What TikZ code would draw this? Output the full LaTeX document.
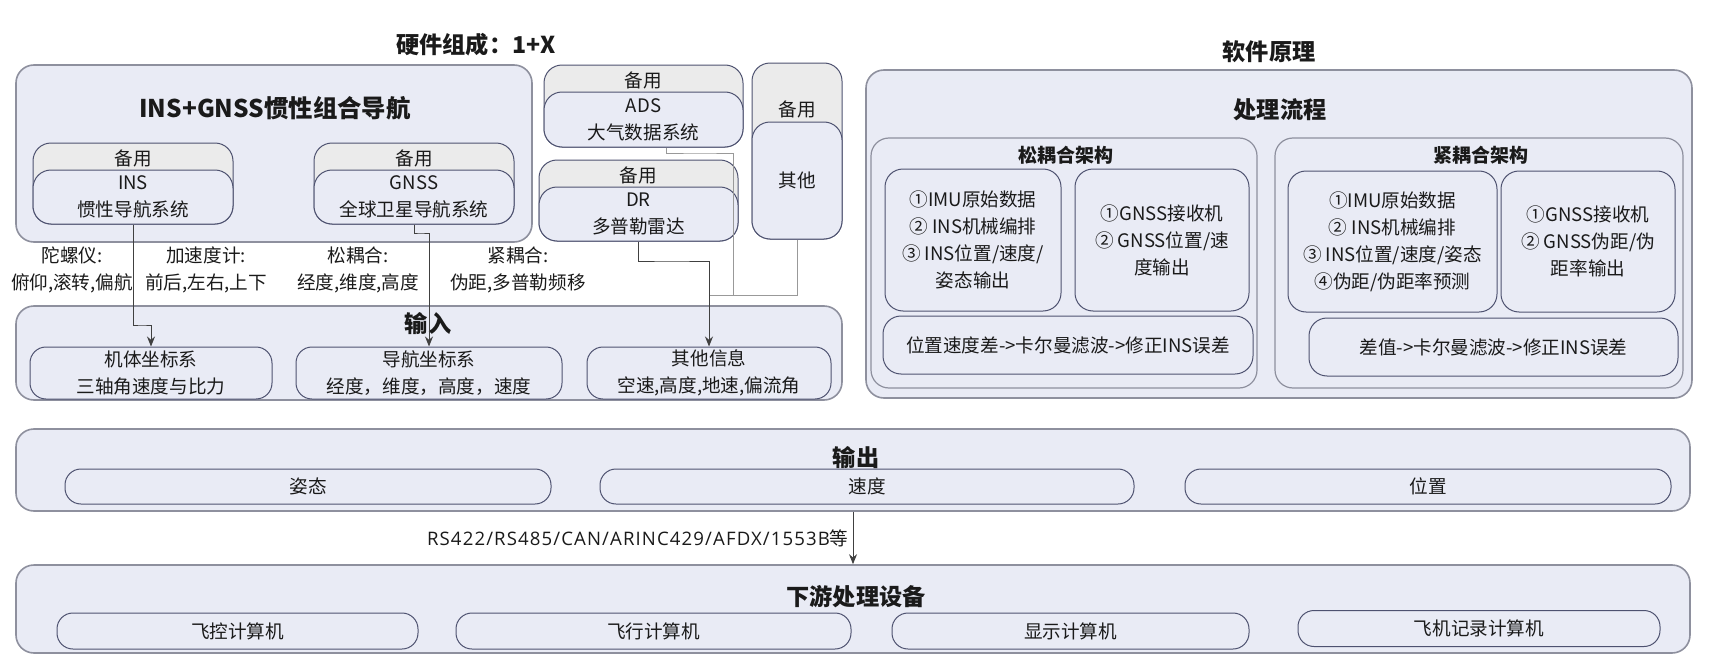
\documentclass[tikz,border=0pt]{standalone}
\usepackage{fontspec}
\setmainfont{Noto Sans CJK SC}
\newfontfamily\latfont{Open Sans}[LetterSpace=6]
\usetikzlibrary{arrows.meta}
\definecolor{boxfill}{HTML}{E9EBF5}
\definecolor{boxline}{HTML}{8E909E}
\definecolor{subline}{HTML}{4E5270}
\definecolor{headfill}{HTML}{EBEBEB}
\definecolor{txtcol}{HTML}{1A1A1A}

\begin{document}
\begin{tikzpicture}[x=0.5pt,y=-0.5pt,
	wh/.style 2 args={minimum width=#1*0.5pt,minimum height=#2*0.5pt},
	txt/.style={font=\fontsize{9.3}{13.5}\selectfont,text=txtcol,align=center,inner sep=0pt},
	ttl/.style={font=\bfseries\fontsize{11.6}{13}\selectfont,text=txtcol,inner sep=0pt},
	ttlsm/.style={font=\bfseries\fontsize{9.5}{12}\selectfont,text=txtcol,inner sep=0pt},
	box/.style={draw=boxline,fill=boxfill,rounded corners=9pt,line width=0.8pt,inner sep=0pt},
	frame/.style={draw=boxline,fill=boxfill,rounded corners=9pt,line width=0.6pt,inner sep=0pt},
	sub/.style={txt,draw=subline,fill=boxfill,rounded corners=9pt,line width=0.5pt},
	card/.style={draw=subline,fill=headfill,rounded corners=9pt,line width=0.5pt,inner sep=0pt},
	pill/.style={txt,draw=subline,fill=boxfill,rounded corners=8pt,line width=0.5pt},
	arr/.style={draw=black!75,line width=0.5pt,-{Stealth[length=5pt,width=4pt]}},
	ln/.style={draw=black!40,line width=0.5pt}]
	\useasboundingbox (0,0) rectangle (1710,669);
	% hardware
	\node[ttl] (hwt) at (476,45) {硬件组成：1+X};
	\node[box,wh={516}{177}] (main) at (274,153.5) {};
	\node[ttl,font=\bfseries\fontsize{12.2}{14}\selectfont] (maint) at (275,108) {INS+GNSS惯性组合导航};
	\foreach \n/\x/\t/\m/\b/\w/\hy/\s in {ins/133/143/170/224/200/158/{INS\\惯性导航系统},
		gnss/414/143/170/224/200/158/{GNSS\\全球卫星导航系统},
		ads/643.5/65/92/147/199/80/{ADS\\大气数据系统},
		dr/638.5/160/187/241/199/175/{DR\\多普勒雷达},
		oth/797/63/122/239/90/109/{其他}}{
		\pgfmathsetmacro\ha{\b-\t}
		\pgfmathsetmacro\hb{\b-\m}
		\node[card,wh={\w}{\ha}] (\n-c) at (\x,{(\t+\b)/2}) {};
		\node[sub,wh={\w}{\hb}] (\n) at (\x,{(\m+\b)/2}) {\s};
		\node[txt] (\n-h) at (\x,\hy) {备用};
	}
	\node[txt] (gyro) at (72,270) {陀螺仪:\\俯仰,滚转,偏航};
	\node[txt] (acc) at (206,270) {加速度计:\\前后,左右,上下};
	\node[txt] (lc) at (358,270) {松耦合:\\经度,维度,高度};
	\node[txt] (tc) at (518,270) {紧耦合:\\伪距,多普勒频移};
	% input
	\node[box,wh={826}{94}] (in) at (429,353) {};
	\node[ttl] (int) at (428,324) {输入};
	\foreach \n/\x/\w/\s in {body/151/242/{机体坐标系\\三轴角速度与比力},
		nav/429/266/{导航坐标系\\经度，维度，高度，速度},
		oinfo/709/244/{其他信息\\空速,高度,地速,偏流角}}
		\node[pill,wh={\w}{52}] (\n) at (\x,373) {\s};
	\coordinate (k1) at (142,325);
	\coordinate (k2) at (420,233);
	\coordinate (a1) at (700,153);
	\coordinate (a2) at (733,295);
	\coordinate (d1) at (670,261);
	\coordinate (hub) at (709,295);
	\draw[arr] (ins.south) |- (k1) -| (body.north);
	\draw[arr] (gnss.south) |- (k2) -| (nav.north);
	\draw[ln] ([xshift=11.25pt]ads.south) |- (a1) -| (a2);
	\draw[ln] (oth.south) |- (hub);
	\draw[arr] (dr.south) |- (d1) -| (oinfo.north);
	% software
	\node[ttl] (swt) at (1269,52) {软件原理};
	\node[box,wh={826}{328}] (sw) at (1279,234) {};
	\node[ttl] (flow) at (1280,110) {处理流程};
	\node[frame,wh={386}{250}] (loose) at (1064,263) {};
	\node[ttlsm] (looset) at (1066,155) {松耦合架构};
	\node[frame,wh={408}{250}] (tight) at (1479,263) {};
	\node[ttlsm] (tightt) at (1481,155) {紧耦合架构};
	\node[sub,wh={176}{142}] (s1) at (973,240) {①IMU原始数据\\② INS机械编排\\③ INS位置/速度/\\姿态输出};
	\node[sub,wh={174}{142}] (s2) at (1162,240) {①GNSS接收机\\② GNSS位置/速\\度输出};
	\node[sub,wh={370}{58}] (sb1) at (1068,345) {位置速度差->卡尔曼滤波->修正INS误差};
	\node[sub,wh={209}{141}] (s3) at (1392.5,241.5) {①IMU原始数据\\② INS机械编排\\③ INS位置/速度/姿态\\④伪距/伪距率预测};
	\node[sub,wh={174}{141}] (s4) at (1588,241.5) {①GNSS接收机\\② GNSS伪距/伪\\距率输出};
	\node[sub,wh={369}{58}] (sb2) at (1493.5,347) {差值->卡尔曼滤波->修正INS误差};
	% output
	\node[box,wh={1674}{82}] (out) at (853,470) {};
	\node[ttl] (outt) at (856,458) {输出};
	\foreach \n/\x/\w/\s in {o1/308/486/姿态,o2/867/534/速度,o3/1428/486/位置}
		\node[pill,wh={\w}{35}] (\n) at (\x,486.5) {\s};
	% downstream
	\node[box,wh={1674}{88}] (down) at (853,609) {};
	\node[ttl] (downt) at (856,597) {下游处理设备};
	\foreach \n/\x/\y/\w/\s in {f1/237.5/631/361/飞控计算机,f2/653.5/631/395/飞行计算机,
		f3/1070.5/631/357/显示计算机,f4/1479/628.5/362/飞机记录计算机}
		\node[pill,wh={\w}{36}] (\n) at (\x,\y) {\s};
	\draw[arr] (out.south) -- node[txt,left=2pt] (bus) {{\latfont RS422/RS485/CAN/ARINC429/AFDX/1553B}等} (down.north);
\end{tikzpicture}
\end{document}
